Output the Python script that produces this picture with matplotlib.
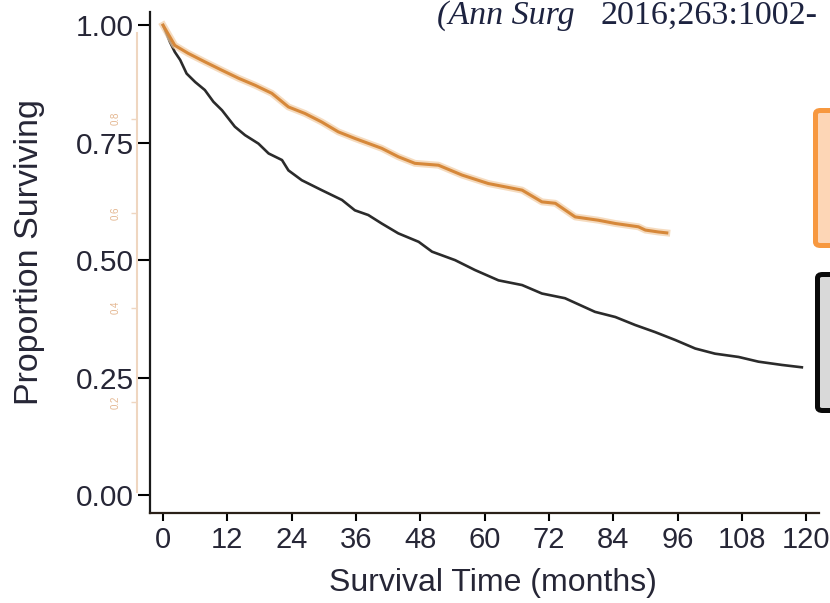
import matplotlib
matplotlib.use("Agg")
import matplotlib.pyplot as plt
from matplotlib.patches import FancyBboxPatch

plt.rcParams["font.family"] = ["Liberation Sans", "DejaVu Sans"]

# Kaplan-Meier estimates, months vs proportion surviving
months_black = [0, 1.3, 2.2, 3.2, 4.4, 6.0, 7.8, 9.4, 11.0, 13.4, 15.3, 17.8, 19.7,
                22.2, 23.4, 25.9, 29.6, 33.4, 35.8, 38.3, 40.8, 43.9, 47.7, 50.2,
                54.5, 58.2, 62.6, 67.0, 70.7, 75.0, 80.6, 84.4, 88.1, 91.8, 95.6,
                99.3, 103.0, 107.4, 111.1, 115.5, 119.2]
surv_black = [1.0, 0.964, 0.943, 0.926, 0.897, 0.879, 0.862, 0.837, 0.819, 0.784,
              0.766, 0.748, 0.727, 0.713, 0.691, 0.670, 0.649, 0.628, 0.606, 0.596,
              0.578, 0.557, 0.539, 0.518, 0.500, 0.479, 0.457, 0.447, 0.429, 0.419,
              0.390, 0.379, 0.362, 0.347, 0.330, 0.312, 0.301, 0.294, 0.284, 0.277,
              0.272]

months_orange = [0, 2.2, 4.7, 7.8, 11.0, 14.1, 17.2, 20.3, 23.4, 26.5, 29.6, 32.7,
                 35.8, 40.8, 43.9, 47.0, 51.4, 55.8, 60.7, 67.0, 70.7, 73.2, 76.9,
                 81.2, 84.4, 88.7, 90.0, 92.4, 94.0]
surv_orange = [1.0, 0.957, 0.940, 0.922, 0.904, 0.887, 0.872, 0.855, 0.826, 0.812,
               0.794, 0.773, 0.759, 0.738, 0.720, 0.706, 0.702, 0.681, 0.663, 0.649,
               0.624, 0.621, 0.592, 0.585, 0.578, 0.571, 0.564, 0.560, 0.558]

x_ticks = list(range(0, 121, 12))
y_ticks = [0.0, 0.25, 0.5, 0.75, 1.0]
y_tick_labels = ["0.00", "0.25", "0.50", "0.75", "1.00"]

# faint second axis showing through from the underlying page
ghost_ticks = [0.2, 0.4, 0.6, 0.8]
ghost_labels = ["0.2", "0.4", "0.6", "0.8"]

W, H = 830, 603
fig = plt.figure(figsize=(W / 100, H / 100), dpi=100)

gax = fig.add_axes([137 / W, 1 - 497 / H, 0.001, 473 / H])
gax.patch.set_visible(False)
for side in ["top", "right", "bottom"]:
    gax.spines[side].set_visible(False)
gax.spines["left"].set_color("#efd6c0")
gax.spines["left"].set_linewidth(1.5)
gax.spines["left"].set_bounds(0.01, 0.98)
gax.set_ylim(0, 1)
gax.set_xticks([])
gax.set_yticks(ghost_ticks)
gax.set_yticklabels(ghost_labels, rotation=90, va="center", fontsize=7, color="#e4b791")
gax.tick_params(axis="y", length=4, width=1, color="#efd6c0", pad=8)

ax = fig.add_axes([150 / W, 1 - 513 / H, (819 - 150) / W, (513 - 12) / H])
ax.patch.set_visible(False)
ax.plot(months_black, surv_black, color="#2b2b2b", lw=1.9)
ax.plot(months_orange, surv_orange, color="#f2cda4", lw=5, alpha=0.7)
ax.plot(months_orange, surv_orange, color="#d6883a", lw=2.2)

ax.set_xlim(-2.43, 122.4)
ax.set_ylim(-0.038, 1.028)
ax.set_xticks(x_ticks)
ax.set_yticks(y_ticks)
ax.set_yticklabels(y_tick_labels)
for side in ["top", "right"]:
    ax.spines[side].set_visible(False)
ax.spines["left"].set_linewidth(1.6)
ax.spines["left"].set_color("#1a1a1a")
ax.spines["bottom"].set_linewidth(1.6)
ax.spines["bottom"].set_color("#2a2018")
ax.tick_params(axis="y", length=8.5, width=1.5, pad=3, labelsize=21.5, labelcolor="#262636")
ax.tick_params(axis="x", length=5.5, width=1.5, pad=4, labelsize=21, labelcolor="#262636")

fig.text(493 / W, 1 - 583 / H, "Survival Time (months)", ha="center", va="center",
         fontsize=23, color="#262636")
fig.text(30 / W, 1 - 252 / H, "Proportion Surviving", ha="center", va="center",
         rotation=90, fontsize=24.5, color="#262636")

# citation line at the top of the page
fig.text(437 / W, 1 - 24 / H, "(Ann Surg", family="Liberation Serif", style="italic",
         fontsize=24.5, color="#1d2340", va="baseline")
fig.text(600 / W, 1 - 24 / H, "2016;263:1002-", family="Liberation Serif",
         fontsize=24.5, color="#1d2340", va="baseline")

# legend boxes running off the right edge
fig.patches.append(FancyBboxPatch((815.5 / W, 1 - 245.5 / H), 0.1, 135 / H,
                                  boxstyle="round,pad=0,rounding_size=0.006",
                                  transform=fig.transFigure, fc="#fdd6b6",
                                  ec="#f7983f", lw=3.6))
fig.patches.append(FancyBboxPatch((817.5 / W, 1 - 410.5 / H), 0.1, 136 / H,
                                  boxstyle="round,pad=0,rounding_size=0.006",
                                  transform=fig.transFigure, fc="#d9d9d9",
                                  ec="#0a0a0a", lw=3.6))

fig.savefig("out.png", dpi=100)
